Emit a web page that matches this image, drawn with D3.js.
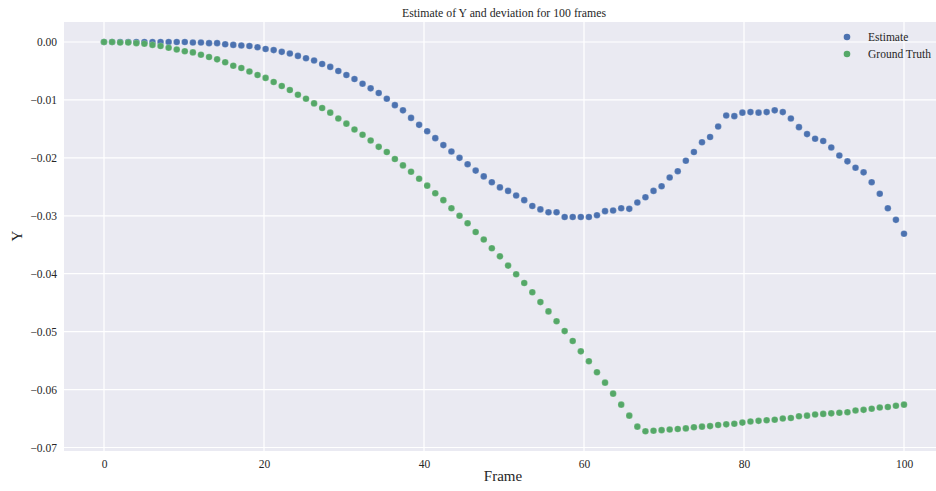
<!DOCTYPE html>
<html>
<head>
<meta charset="utf-8">
<script src="https://cdn.jsdelivr.net/npm/d3@7"></script>
<style>
  html, body { margin: 0; padding: 0; background: #fff; }
  svg { display: block; }
  text { font-family: "Liberation Serif", "DejaVu Serif", serif; fill: #262626; }
</style>
</head>
<body>
<svg id="chart" width="936" height="491"></svg>
<script>
// Frame number of each sample (100 samples spread over frames 0–100)
const frames = [
  0, 1.01, 2.02, 3.03, 4.04, 5.05, 6.06, 7.07, 8.08, 9.09,
  10.10, 11.11, 12.12, 13.13, 14.14, 15.15, 16.16, 17.17, 18.18, 19.19,
  20.20, 21.21, 22.22, 23.23, 24.24, 25.25, 26.26, 27.27, 28.28, 29.29,
  30.30, 31.31, 32.32, 33.33, 34.34, 35.35, 36.36, 37.37, 38.38, 39.39,
  40.40, 41.41, 42.42, 43.43, 44.44, 45.45, 46.46, 47.47, 48.48, 49.49,
  50.51, 51.52, 52.53, 53.54, 54.55, 55.56, 56.57, 57.58, 58.59, 59.60,
  60.61, 61.62, 62.63, 63.64, 64.65, 65.66, 66.67, 67.68, 68.69, 69.70,
  70.71, 71.72, 72.73, 73.74, 74.75, 75.76, 76.77, 77.78, 78.79, 79.80,
  80.81, 81.82, 82.83, 83.84, 84.85, 85.86, 86.87, 87.88, 88.89, 89.90,
  90.91, 91.92, 92.93, 93.94, 94.95, 95.96, 96.97, 97.98, 98.99, 100
];

// Estimated Y per sample
const estimate = [
  0, 0, 0, 0, 0, 0, 0, 0, 0, 0,
  0, -0.0001, -0.0001, -0.0002, -0.0002, -0.0004, -0.0005, -0.0006, -0.0007, -0.0009,
  -0.0012, -0.0014, -0.0017, -0.0020, -0.0024, -0.0028, -0.0032, -0.0038, -0.0043, -0.0050,
  -0.0057, -0.0064, -0.0072, -0.0080, -0.0088, -0.0098, -0.0109, -0.0118, -0.0131, -0.0143,
  -0.0154, -0.0166, -0.0178, -0.0189, -0.0200, -0.0211, -0.0222, -0.0232, -0.0242, -0.0251,
  -0.0257, -0.0265, -0.0273, -0.0283, -0.0289, -0.0294, -0.0294, -0.0302, -0.0302, -0.0302,
  -0.0302, -0.0299, -0.0292, -0.0291, -0.0287, -0.0288, -0.0277, -0.0268, -0.0257, -0.0249,
  -0.0234, -0.0223, -0.0205, -0.0190, -0.0173, -0.0164, -0.0146, -0.0127, -0.0128, -0.0122,
  -0.0121, -0.0122, -0.0121, -0.0118, -0.0121, -0.0132, -0.0147, -0.0159, -0.0167, -0.0171,
  -0.0182, -0.0196, -0.0206, -0.0217, -0.0225, -0.0242, -0.0262, -0.0287, -0.0307, -0.0331
];

// Ground-truth Y per sample
const groundTruth = [
  0, 0, -0.0001, -0.0001, -0.0002, -0.0003, -0.0005, -0.0007, -0.0010, -0.0013,
  -0.0016, -0.0018, -0.0022, -0.0026, -0.0030, -0.0035, -0.0041, -0.0045, -0.0051, -0.0057,
  -0.0062, -0.0069, -0.0076, -0.0083, -0.0091, -0.0098, -0.0106, -0.0114, -0.0122, -0.0132,
  -0.0141, -0.0151, -0.0160, -0.0170, -0.0181, -0.0190, -0.0202, -0.0213, -0.0224, -0.0236,
  -0.0248, -0.0261, -0.0273, -0.0287, -0.0300, -0.0313, -0.0328, -0.0341, -0.0356, -0.0370,
  -0.0386, -0.0401, -0.0416, -0.0432, -0.0449, -0.0465, -0.0482, -0.0499, -0.0516, -0.0534,
  -0.0551, -0.0570, -0.0588, -0.0607, -0.0626, -0.0645, -0.0664, -0.0672, -0.0671, -0.0670,
  -0.0669, -0.0668, -0.0667, -0.0665, -0.0664, -0.0663, -0.0661, -0.0660, -0.0659, -0.0657,
  -0.0655, -0.0654, -0.0653, -0.0652, -0.0650, -0.0649, -0.0646, -0.0645, -0.0643, -0.0642,
  -0.0641, -0.0640, -0.0639, -0.0636, -0.0635, -0.0633, -0.0631, -0.0630, -0.0628, -0.0626
];

const xTicks = [0, 20, 40, 60, 80, 100];
const yTicks = [0, -0.01, -0.02, -0.03, -0.04, -0.05, -0.06, -0.07];

const seriesNames = ["Estimate", "Ground Truth"];
const seriesColors = ["#4C72B0", "#55A868"];

const svg = d3.select("#chart");
const plot = { left: 64, top: 22, right: 944, bottom: 451 };

const x = d3.scaleLinear().domain([-5, 105]).range([plot.left, plot.right]);
const y = d3.scaleLinear().domain([-0.0706, 0.00345]).range([plot.bottom, plot.top]);

// Axes background
svg.append("rect")
  .attr("x", plot.left).attr("y", plot.top)
  .attr("width", plot.right - plot.left).attr("height", plot.bottom - plot.top)
  .attr("fill", "#EAEAF2");

// Grid lines
const grid = svg.append("g");
grid.selectAll("line.gx").data(xTicks).join("line")
  .attr("x1", d => x(d)).attr("x2", d => x(d))
  .attr("y1", plot.top).attr("y2", plot.bottom)
  .attr("stroke", "#fff").attr("stroke-width", 1.2);
grid.selectAll("line.gy").data(yTicks).join("line")
  .attr("y1", d => y(d)).attr("y2", d => y(d))
  .attr("x1", plot.left).attr("x2", plot.right)
  .attr("stroke", "#fff").attr("stroke-width", 1.2);

// Axes (tick labels only, no spines or tick marks)
const xAxis = d3.axisBottom(x).tickValues(xTicks).tickFormat(d3.format("d")).tickSize(0).tickPadding(9);
const yAxis = d3.axisLeft(y).tickValues(yTicks).tickFormat(d3.format(".2f")).tickSize(0).tickPadding(7);

const gx = svg.append("g").attr("transform", `translate(0,${plot.bottom})`).call(xAxis);
const gy = svg.append("g").attr("transform", `translate(${plot.left},0)`).call(yAxis);
[gx, gy].forEach(g => {
  g.select(".domain").remove();
  g.selectAll("text")
    .attr("font-family", "'Liberation Serif', serif")
    .attr("font-size", 11.5)
    .attr("fill", "#262626");
});

// Scatter series
const series = [estimate, groundTruth];
series.forEach((vals, si) => {
  svg.append("g").selectAll("circle")
    .data(vals.map((v, i) => [frames[i], v]))
    .join("circle")
    .attr("cx", d => x(d[0]))
    .attr("cy", d => y(d[1]))
    .attr("r", 3.3)
    .attr("fill", seriesColors[si])
    .attr("stroke", "#fff")
    .attr("stroke-opacity", 0.35)
    .attr("stroke-width", 0.5);
});

// Title and axis labels
svg.append("text")
  .attr("x", 504).attr("y", 17)
  .attr("text-anchor", "middle").attr("font-size", 12.5)
  .attr("textLength", 204).attr("lengthAdjust", "spacingAndGlyphs")
  .text("Estimate of Y and deviation for 100 frames");

svg.append("text")
  .attr("x", 503).attr("y", 481)
  .attr("text-anchor", "middle").attr("font-size", 15)
  .text("Frame");

svg.append("text")
  .attr("transform", "translate(22,236) rotate(-90)")
  .attr("text-anchor", "middle").attr("font-size", 15)
  .text("Y");

// Legend
const legend = svg.append("g");
seriesNames.forEach((name, i) => {
  const ly = 37 + i * 17;
  legend.append("circle")
    .attr("cx", 847).attr("cy", ly).attr("r", 3.3)
    .attr("fill", seriesColors[i]);
  legend.append("text")
    .attr("x", 868).attr("y", ly).attr("dy", "0.35em")
    .attr("font-size", 11.5)
    .text(name);
});
</script>
</body>
</html>
